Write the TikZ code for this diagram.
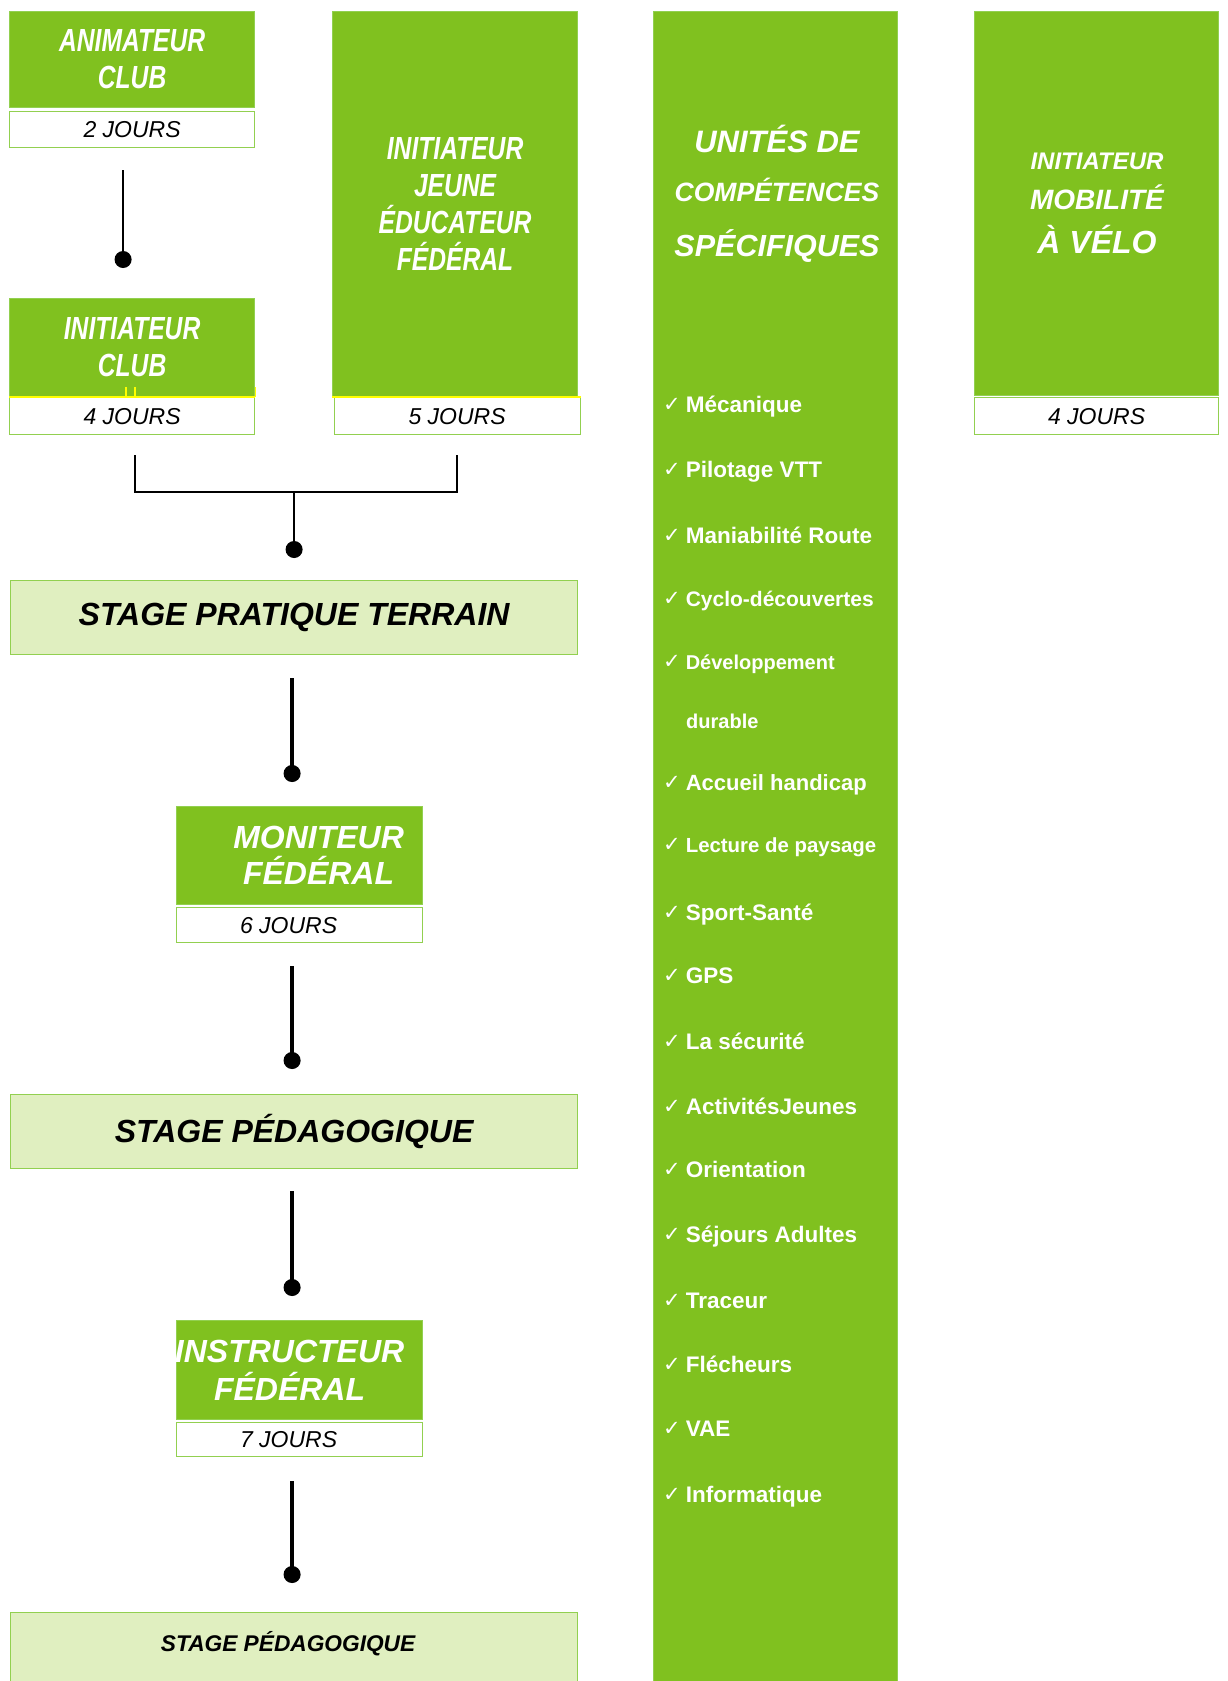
\documentclass[tikz,border=0pt]{standalone}
\usepackage{fontspec}
\setmainfont{Liberation Sans}
\newfontfamily\etroit[FakeStretch=0.77]{Liberation Sans}
\newfontfamily\coche{DejaVu Sans}
\usetikzlibrary{positioning,arrows.meta}
\definecolor{vert}{RGB}{128,193,31}
\definecolor{bord}{RGB}{146,208,80}
\definecolor{pale}{RGB}{224,239,192}
\definecolor{jaune}{RGB}{255,255,0}
\tikzset{
  box/.style={draw=bord, line width=1.2pt, inner sep=0pt, anchor=north west},
  vertbox/.style={box, fill=vert, text=white, align=center},
  jours/.style={box, fill=white, font=\fontsize{23}{26}\selectfont\itshape},
  stage/.style={box, fill=pale, font=\fontsize{32}{36}\selectfont\bfseries\itshape},
  etr/.style={font=\etroit\fontsize{32}{37}\selectfont\bfseries\itshape},
  titre/.style={text=white, inner sep=0pt, align=center, font=\fontsize{32}{37}\selectfont\bfseries\itshape},
  item/.style={text=white, inner sep=0pt, anchor=base west},
  lien/.style={line width=2.5pt, -{Circle[length=17pt]}},
  lienfin/.style={line width=4.5pt, -{Circle[length=17pt]}},
}
\newcommand{\ok}{\raisebox{0.5pt}{\coche\mdseries\fontsize{21}{21}\selectfont ✓}\hspace{5pt}}

\begin{document}
\begin{tikzpicture}[x=1pt, y=-1pt]
  \useasboundingbox (0,0) rectangle (1227,1681);
  \clip (0,0) rectangle (1227,1681);

  % colonne de gauche
  \node[vertbox, etr, minimum width=245pt, minimum height=96pt] (animateur) at (9,11) {ANIMATEUR\\CLUB};
  \node[jours, minimum width=245pt, minimum height=36pt, below=3pt of animateur] (animjours) {2 JOURS};

  \node[vertbox, etr, minimum width=245pt, minimum height=98pt] (initclub) at (9,298) {INITIATEUR\\CLUB};
  \node[jours, minimum width=245pt, minimum height=37pt, below=0pt of initclub] (initjours) {4 JOURS};
  \draw[jaune, line width=1.5pt] (initclub.south west) -- (initclub.south east);
  \draw[jaune, line width=1.2pt] ([xshift=117pt]initclub.south west) -- ++(0,-10)
    ([xshift=126pt]initclub.south west) -- ++(0,-10)
    (initclub.south east) -- ++(0,-10);

  \node[vertbox, etr, minimum width=245pt, minimum height=385pt] (ije) at (332,11) {INITIATEUR\\JEUNE\\ÉDUCATEUR\\FÉDÉRAL};
  \node[jours, minimum width=246pt, minimum height=37pt, below=0pt of ije, xshift=2pt] (ijejours) {5 JOURS};
  \draw[jaune, line width=1.5pt] (ije.south west) -- (ijejours.north east);

  % unites de competences
  \node[box, fill=vert, minimum width=244pt, minimum height=1700pt] (ucs) at (653,11) {};
  \node[titre, anchor=base, font=\fontsize{31}{31}\selectfont\bfseries\itshape] (ucs1) at (777,152) {UNITÉS DE};
  \node[titre, anchor=base, font=\fontsize{26.5}{27}\selectfont\bfseries\itshape] (ucs2) at (777,201) {COMPÉTENCES};
  \node[titre, anchor=base, font=\fontsize{30.5}{31}\selectfont\bfseries\itshape] (ucs3) at (777,256) {SPÉCIFIQUES};

  \foreach \y/\s/\t [count=\i] in {412/22.5/Mécanique, 477/22.5/Pilotage VTT, 543/22.5/Maniabilité Route,
      606/21/Cyclo-découvertes, 669/20/Développement, 790/22/Accueil handicap,
      852/20.4/Lecture de paysage, 920/22.5/Sport-Santé, 983/22.5/GPS, 1049/22.5/La sécurité,
      1114/22.5/ActivitésJeunes, 1177/22.5/Orientation, 1242/22.5/Séjours Adultes,
      1308/22.5/Traceur, 1372/22.5/Flécheurs, 1436/22.5/VAE, 1502/22.5/Informatique}
    \node[item, font=\fontsize{\s}{\s}\selectfont\bfseries] (comp\i) at (663,\y) {\ok\t};
  \node[item, font=\fontsize{20}{20}\selectfont\bfseries] (durable) at (686,728) {durable};

  % initiateur mobilite
  \node[box, fill=vert, minimum width=244pt, minimum height=384pt] (mob) at (974,11) {};
  \node[jours, minimum width=244pt, minimum height=37pt, below=1pt of mob] (mobjours) {4 JOURS};
  \node[titre, anchor=base, font=\fontsize{24}{24}\selectfont\bfseries\itshape] (mob1) at (1097,169) {INITIATEUR};
  \node[titre, anchor=base, font=\fontsize{28}{28}\selectfont\bfseries\itshape] (mob2) at (1097,209) {MOBILITÉ};
  \node[titre, anchor=base, font=\fontsize{32}{32}\selectfont\bfseries\itshape] (mob3) at (1097,253) {À VÉLO};

  % stages et diplomes
  \node[stage, minimum width=567pt, minimum height=74pt] (spt) at (10,580) {STAGE PRATIQUE TERRAIN};

  \node[box, fill=vert, minimum width=246pt, minimum height=98pt] (moniteur) at (176,806) {};
  \node[titre, font=\fontsize{32}{36}\selectfont\bfseries\itshape] (monitexte) at ([xshift=19pt]moniteur.center) {MONITEUR\\FÉDÉRAL};
  \node[jours, minimum width=246pt, minimum height=35pt, below=2pt of moniteur] (monjours) {\hspace*{-22pt}6 JOURS};

  \node[stage, minimum width=567pt, minimum height=74pt] (sp) at (10,1094) {STAGE PÉDAGOGIQUE};

  \node[box, fill=vert, minimum width=246pt, minimum height=99pt] (instr) at (176,1320) {};
  \begin{scope}
    \clip (instr.south west) rectangle (instr.north east);
    \node[titre, font=\fontsize{32}{38}\selectfont\bfseries\itshape] (instrtexte) at ([xshift=-10pt]instr.center) {INSTRUCTEUR\\FÉDÉRAL};
  \end{scope}
  \node[jours, minimum width=246pt, minimum height=34pt, below=2pt of instr] (instrjours) {\hspace*{-22pt}7 JOURS};

  \node[stage, minimum width=567pt, minimum height=90pt] (sp2) at (10,1612) {};
  \node[inner sep=0pt, font=\fontsize{22.7}{24}\selectfont\bfseries\itshape] (sp2texte) at ([xshift=-6pt, yshift=-32pt]sp2.north) {STAGE PÉDAGOGIQUE};

  % liens
  \draw[lien, shorten <=22pt, shorten >=30pt] ([xshift=-9pt]animjours.south) -- ([xshift=-9pt]initclub.north);
  \path (spt.north) ++(0,-88) coordinate (fusion);
  \draw[line width=2.5pt, shorten <=20pt, shorten >=20pt] ([xshift=3pt]initjours.south) |- (fusion) -| (ijejours.south);
  \draw[lien, shorten >=22pt] (fusion) -- (spt);
  \draw[lienfin, shorten <=23pt, shorten >=24pt] ([xshift=-2pt]spt.south) -- ([xshift=-2pt]spt.south |- moniteur.north);
  \draw[lienfin, shorten <=23pt, shorten >=25pt] ([xshift=-2pt]sp.north |- monjours.south) -- ([xshift=-2pt]sp.north);
  \draw[lienfin, shorten <=22pt, shorten >=24pt] ([xshift=-2pt]sp.south) -- ([xshift=-2pt]sp.south |- instr.north);
  \draw[lienfin, shorten <=24pt, shorten >=29pt] ([xshift=-2pt]sp2.north |- instrjours.south) -- ([xshift=-2pt]sp2.north);
\end{tikzpicture}
\end{document}
